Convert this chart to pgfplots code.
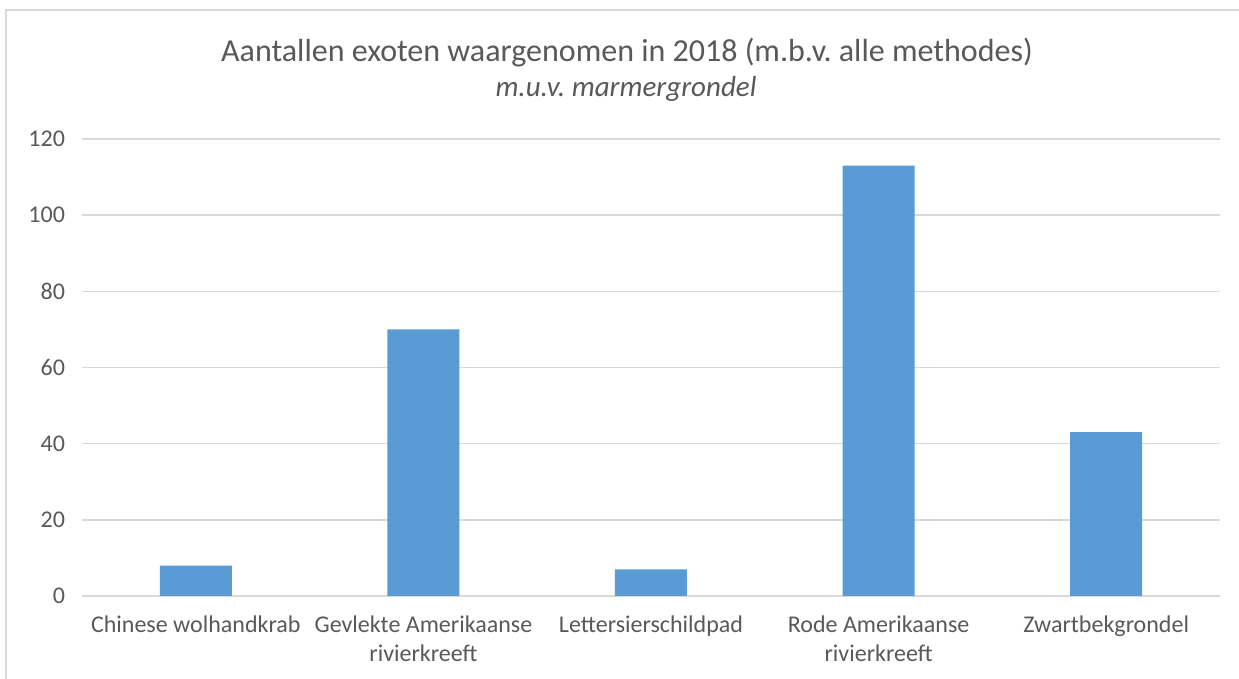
\documentclass[border=0pt]{standalone}
\usepackage{pgfplots}
\pgfplotsset{compat=1.18}
\usepackage{fontspec}
\setmainfont{Carlito}
\frenchspacing
\definecolor{barblue}{HTML}{5B9BD5}
\definecolor{gridgray}{HTML}{D9D9D9}
\definecolor{txtgray}{HTML}{595959}
\begin{document}
\begin{tikzpicture}[x=1pt,y=1pt]
\useasboundingbox[fill=white] (0,0) rectangle (619.5,339.5);
\draw[gridgray,line width=0.8pt] (3,0) -- (3,334.5) -- (619.5,334.5);
\begin{axis}[
  at={(41pt,41.5pt)}, anchor=south west,
  scale only axis, width=569pt, height=228.5pt,
  xmin=-0.5, xmax=4.5, ymin=0, ymax=120,
  ytick={0,20,...,120},
  xtick={0,1,2,3,4},
  xticklabels={Chinese wolhandkrab,{Gevlekte Amerikaanse\\rivierkreeft},Lettersierschildpad,{Rode Amerikaanse\\rivierkreeft},Zwartbekgrondel},
  xticklabel style={align=center, font=\fontsize{12}{14.5}\selectfont, text=txtgray, yshift=-6.5pt},
  yticklabel style={font=\fontsize{12}{13}\selectfont, text=txtgray, xshift=-5pt},
  /pgf/number format/assume math mode=true,
  ymajorgrids, grid style={gridgray, line width=0.7pt},
  axis line style={draw=none},
  major tick length=0pt,
  axis x line*=bottom,
  x axis line style={draw=gridgray, line width=0.7pt},
  ybar, bar width=36pt,
]
\addplot[fill=barblue, draw=none] coordinates {(0,8) (1,70) (2,7) (3,113) (4,43)};
\end{axis}
\node[anchor=base, text=txtgray, font=\fontsize{16}{19}\selectfont] at (313.5,308.5) {Aantallen exoten waargenomen in 2018 (m.b.v. alle methodes)};
\node[anchor=base, text=txtgray, font=\fontsize{14.5}{17}\selectfont\itshape] at (313,291) {m.u.v. marmergrondel};
\end{tikzpicture}
\end{document}
